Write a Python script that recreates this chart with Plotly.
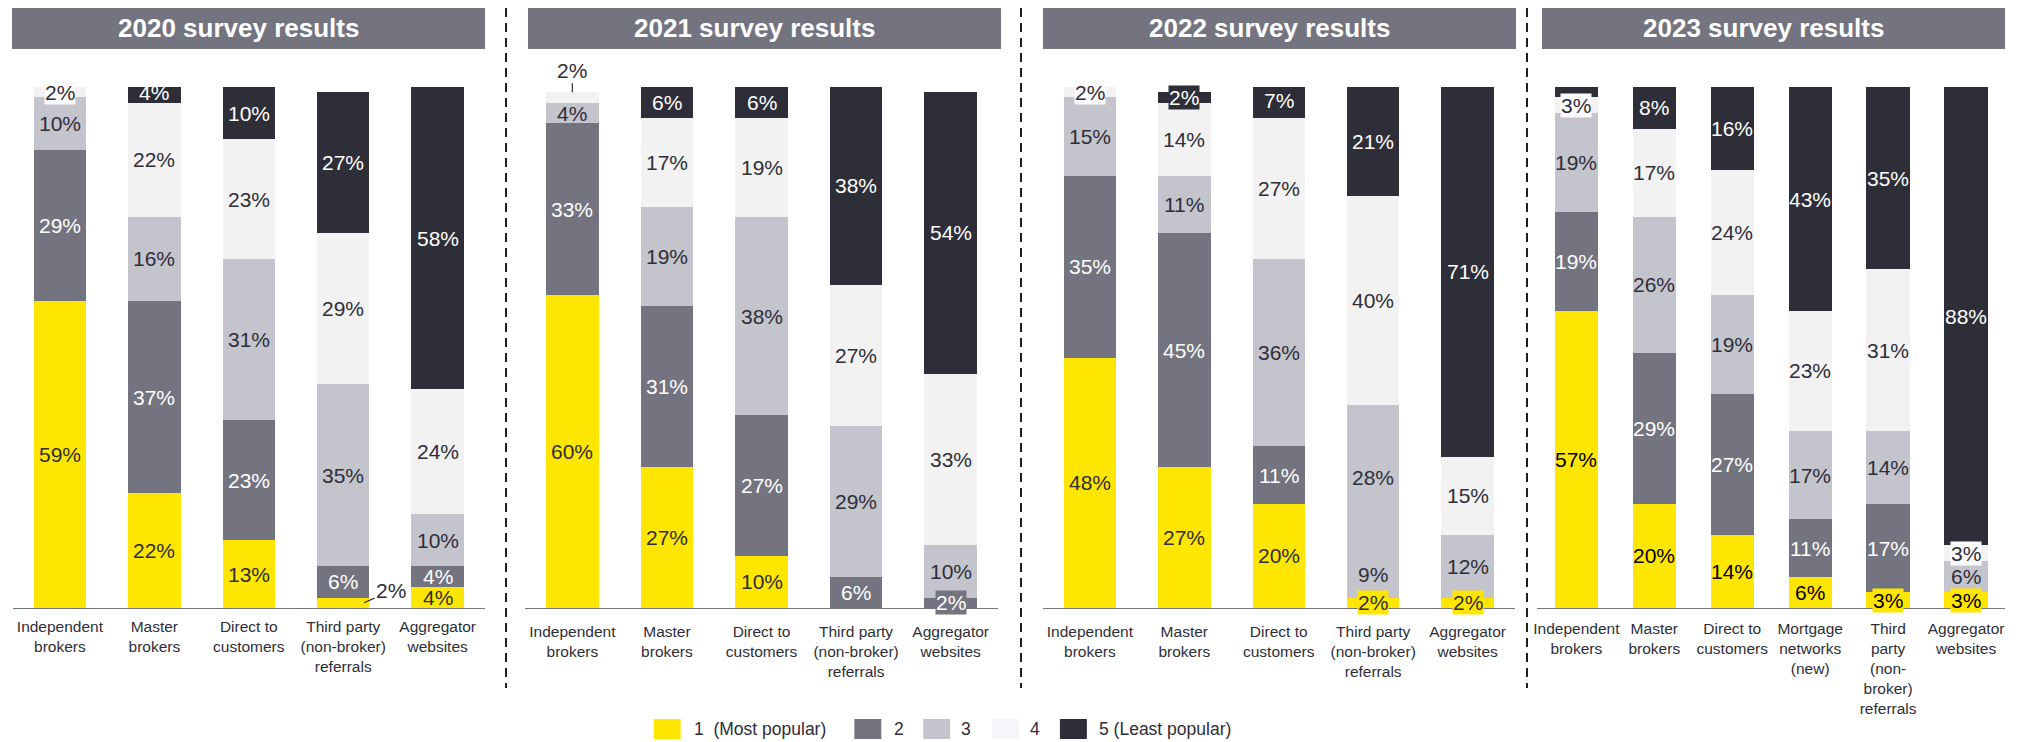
import plotly.graph_objects as go

# ---------------- data ----------------
categories_std = ["Independent<br>brokers", "Master<br>brokers", "Direct to<br>customers",
                  "Third party<br>(non-broker)<br>referrals", "Aggregator<br>websites"]
categories_2023 = ["Independent<br>brokers", "Master<br>brokers", "Direct to<br>customers",
                   "Mortgage<br>networks<br>(new)", "Third<br>party<br>(non-<br>broker)<br>referrals",
                   "Aggregator<br>websites"]

series_names = ["1\u00a0 (Most popular)", "2", "3", "4", "5 (Least popular)"]

rank1_2020 = [59, 22, 13, 2, 4]
rank2_2020 = [29, 37, 23, 6, 4]
rank3_2020 = [10, 16, 31, 35, 10]
rank4_2020 = [2, 22, 23, 29, 24]
rank5_2020 = [0, 4, 10, 27, 58]

rank1_2021 = [60, 27, 10, 0, 0]
rank2_2021 = [33, 31, 27, 6, 2]
rank3_2021 = [4, 19, 38, 29, 10]
rank4_2021 = [2, 17, 19, 27, 33]
rank5_2021 = [0, 6, 6, 38, 54]

rank1_2022 = [48, 27, 20, 2, 2]
rank2_2022 = [35, 45, 11, 9, 0]
rank3_2022 = [15, 11, 36, 28, 12]
rank4_2022 = [2, 14, 27, 40, 15]
rank5_2022 = [0, 2, 7, 21, 71]

rank1_2023 = [57, 20, 14, 6, 3, 3]
rank2_2023 = [19, 29, 27, 11, 17, 0]
rank3_2023 = [19, 26, 19, 17, 14, 6]
rank4_2023 = [3, 17, 24, 23, 31, 3]
rank5_2023 = [2, 8, 16, 43, 35, 88]

# ---------------- styling ----------------
OFF = 8                      # page body margin in the browser
FW, FH = 2016, 734           # figure size
FONT = "Liberation Sans, Arial, sans-serif"
colors = ["#FFE600", "#747480", "#C4C4CD", "#F2F2F2", "#2E2E38"]
text_colors = ["#2E2E38", "#FFFFFF", "#2E2E38", "#2E2E38", "#FFFFFF"]
box_colors = ["#FFE600", "#747480", "#C4C4CD", "#FBFBFB", "#2E2E38"]
LABEL_SIZE = 21


def px_x(x):
    return (x - OFF) / FW


def px_y(y):
    return 1 - (y - OFF) / FH


panels = [
    dict(title="2020 survey results", cats=categories_std,
         data=[rank1_2020, rank2_2020, rank3_2020, rank4_2020, rank5_2020],
         bar=(8, 482), dom=(8.7, 481.8), standoff=4),
    dict(title="2021 survey results", cats=categories_std,
         data=[rank1_2021, rank2_2021, rank3_2021, rank4_2021, rank5_2021],
         bar=(525, 999), dom=(522.1, 995.9), standoff=9),
    dict(title="2022 survey results", cats=categories_std,
         data=[rank1_2022, rank2_2022, rank3_2022, rank4_2022, rank5_2022],
         bar=(1041, 1515), dom=(1040.7, 1513.8), standoff=9),
    dict(title="2023 survey results", cats=categories_2023,
         data=[rank1_2023, rank2_2023, rank3_2023, rank4_2023, rank5_2023],
         bar=(1541, 2005), dom=(1536.4, 2005.0), standoff=6),
]

# styling exceptions (panel index, category index, series index)
color_override = {(2, 3, 1): "#C4C4CD"}
text_color_override = {(2, 3, 1): "#2E2E38"}
for j in range(6):
    text_color_override[(3, j, 0)] = "#000000"
hidden_labels = {(3, 0, 4)}
leader_labels = {(0, 3, 0): dict(dx=0.22, ax=27, ay=-12, at="mid"),
                 (1, 0, 3): dict(dx=0.0, ax=0, ay=-22, at="top")}

fig = go.Figure()
annotations = []
shapes = []

Y_BOTTOM, Y_TOP = 608, 87

for p, panel in enumerate(panels):
    suf = "" if p == 0 else str(p + 1)
    cats = panel["cats"]
    for s, vals in enumerate(panel["data"]):
        mcolors = [color_override.get((p, j, s), colors[s]) for j in range(len(cats))]
        fig.add_trace(go.Bar(
            x=cats, y=vals, name=series_names[s], marker=dict(color=mcolors, line=dict(width=0)),
            xaxis="x" + suf, yaxis="y" + suf, showlegend=False, cliponaxis=False,
            hovertemplate="%{y}%<extra>" + series_names[s] + "</extra>"))
    # labels
    for j in range(len(cats)):
        cum = 0
        for s in range(5):
            v = panel["data"][s][j]
            if v <= 0:
                continue
            key = (p, j, s)
            mid = cum + v / 2
            cum += v
            if key in hidden_labels:
                continue
            tcol = text_color_override.get(key, text_colors[s])
            if key in leader_labels:
                L = leader_labels[key]
                total = sum(panel["data"][k][j] for k in range(5))
                annotations.append(dict(
                    x=j + L["dx"], y=(mid if L["at"] == "mid" else total),
                    xref="x" + suf, yref="y" + suf, text=f"{v}%", showarrow=True,
                    ax=L["ax"], ay=L["ay"], arrowhead=0, arrowwidth=1.2, arrowcolor="#2E2E38",
                    standoff=0, font=dict(size=LABEL_SIZE, color="#2E2E38", family=FONT)))
                continue
            ann = dict(x=j, y=mid, xref="x" + suf, yref="y" + suf, text=f"{v}%",
                       showarrow=False, font=dict(size=LABEL_SIZE, color=tcol, family=FONT))
            if v <= 3:
                bg = color_override.get(key, box_colors[s])
                ann.update(bgcolor=bg, borderpad=0)
            annotations.append(ann)

    # axes
    fig.update_layout(**{
        "xaxis" + suf: dict(domain=[px_x(panel["dom"][0]), px_x(panel["dom"][1])],
                            anchor="y" + suf, type="category", range=[-0.5, len(cats) - 0.5],
                            showline=True, linecolor="#747480", linewidth=1, ticks="",
                            showgrid=False, zeroline=False, ticklabelstandoff=panel["standoff"],
                            tickfont=dict(size=15.5, color="#2E2E38", family=FONT)),
        "yaxis" + suf: dict(domain=[px_y(Y_BOTTOM), px_y(Y_TOP)], anchor="x" + suf,
                            range=[0, 100], showgrid=False, zeroline=False,
                            showticklabels=False, showline=False, ticks=""),
    })
    # title bar
    x0, x1 = panel["bar"]
    shapes.append(dict(type="rect", xref="paper", yref="paper", x0=px_x(x0), x1=px_x(x1),
                       y0=px_y(49), y1=px_y(6), fillcolor="#747480", line=dict(width=0),
                       layer="below"))
    annotations.append(dict(x=px_x((x0 + x1) / 2 - 10), y=px_y(27.5), xref="paper", yref="paper",
                            text=f"<b>{panel['title']}</b>", showarrow=False,
                            xanchor="center", yanchor="middle",
                            font=dict(size=26, color="#FFFFFF", family=FONT)))

# dashed dividers
for xd in [503, 1019, 1526]:
    shapes.append(dict(type="line", xref="paper", yref="paper", x0=px_x(xd), x1=px_x(xd),
                       y0=px_y(OFF), y1=px_y(688),
                       line=dict(color="#1E1E1E", width=2, dash="9px,6px")))

# legend (manual)
legend_sq = [651, 852, 921, 990, 1058]
legend_tx = [689, 890, 957, 1026, 1095]
leg_colors = ["#FFE600", "#747480", "#C4C4CD", "#F6F6FA", "#2E2E38"]
for s in range(5):
    shapes.append(dict(type="rect", xref="paper", yref="paper",
                       x0=px_x(legend_sq[s]), x1=px_x(legend_sq[s] + 27),
                       y0=px_y(739), y1=px_y(719), fillcolor=leg_colors[s], line=dict(width=0)))
    annotations.append(dict(x=px_x(legend_tx[s]), y=px_y(729), xref="paper", yref="paper",
                            text=series_names[s], showarrow=False, xanchor="left",
                            yanchor="middle",
                            font=dict(size=17.5, color="#2E2E38", family=FONT)))

fig.update_layout(
    width=FW, height=FH, barmode="stack", bargap=0.445,
    margin=dict(l=0, r=0, t=0, b=0),
    paper_bgcolor="#FFFFFF", plot_bgcolor="#FFFFFF",
    font=dict(family=FONT, color="#2E2E38"),
    annotations=annotations, shapes=shapes, showlegend=False,
)

fig.write_html("out.html")
